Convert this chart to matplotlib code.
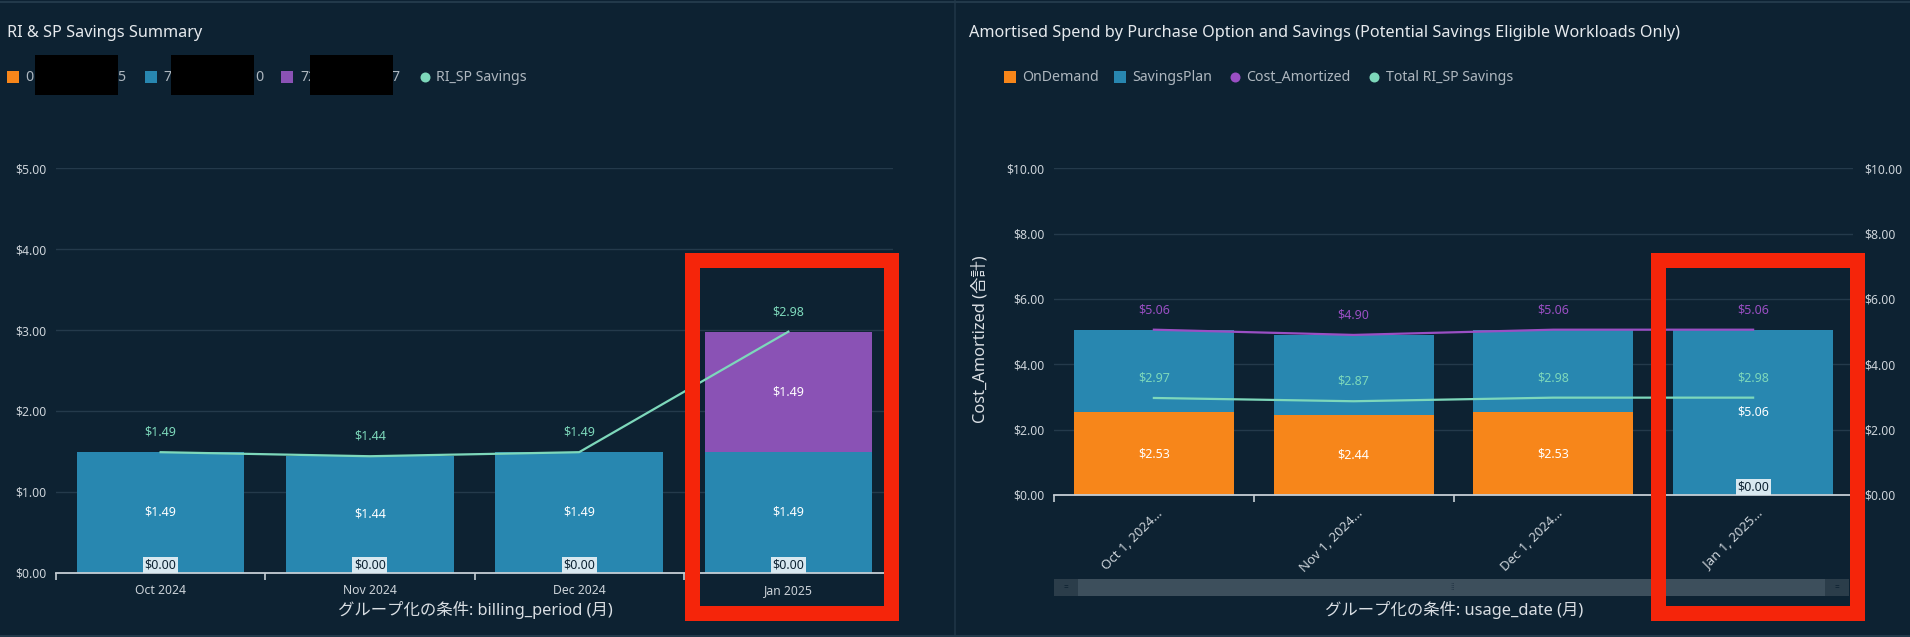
import matplotlib
matplotlib.use('Agg')
import matplotlib.pyplot as plt
from matplotlib.patches import Rectangle
from matplotlib.lines import Line2D
from matplotlib.transforms import ScaledTranslation
import numpy as np

plt.rcParams['font.family'] = ['Noto Sans', 'Noto Sans CJK JP', 'DejaVu Sans']

# ---------------- data ----------------
left_periods = ['Oct 2024', 'Nov 2024', 'Dec 2024', 'Jan 2025']
left_orange = [0.00, 0.00, 0.00, 0.00]
left_blue = [1.49, 1.44, 1.49, 1.49]
left_purple = [0.00, 0.00, 0.00, 1.49]
left_savings = [1.49, 1.44, 1.49, 2.98]
left_yticks = [0, 1, 2, 3, 4, 5]

right_dates = ['Oct 1, 2024…', 'Nov 1, 2024…', 'Dec 1, 2024…', 'Jan 1, 2025…']
right_ondemand = [2.53, 2.44, 2.53, 0.00]
right_savingsplan = [2.53, 2.46, 2.53, 5.06]
right_cost_amortized = [5.06, 4.90, 5.06, 5.06]
right_total_savings = [2.97, 2.87, 2.98, 2.98]
right_yticks = [0, 2, 4, 6, 8, 10]

left_title = 'RI & SP Savings Summary'
right_title = 'Amortised Spend by Purchase Option and Savings (Potential Savings Eligible Workloads Only)'
left_xlabel = 'グループ化の条件: billing_period (月)'
right_xlabel = 'グループ化の条件: usage_date (月)'
right_ylabel = 'Cost_Amortized (合計)'

# ---------------- style ----------------
W, H = 1910, 637
BG = '#0d2232'
ORANGE = '#f7861a'
BLUE = '#2887b0'
PURPLE = '#8a52b5'
MINT = '#7dd8bb'
PURPLE_LINE = '#9a4fc4'
GRID = '#243a4b'
TICK = '#ccd3d9'
LEG = '#aeb7bf'
RED = '#f5250a'
TITLE_FS = 11.7
LEG_FS = 10.2
AX_FS = 11.8
TICK_FS = 8.8
VAL_FS = 9

fig = plt.figure(figsize=(W / 100, H / 100), dpi=100, facecolor=BG)


def fx(x):
    return x / W


def fy(y):
    return 1 - y / H


def fig_rect(x0, y0, x1, y1, color, z=5, **kw):
    fig.add_artist(Rectangle((fx(x0), fy(y1)), (x1 - x0) / W, (y1 - y0) / H,
                             transform=fig.transFigure, facecolor=color,
                             edgecolor='none', zorder=z, **kw))


def fig_text(x, y, s, **kw):
    kw.setdefault('ha', 'left')
    kw.setdefault('va', 'center')
    return fig.text(fx(x), fy(y), s, **kw)


def fig_dot(x, y, color, size=10):
    fig.add_artist(Line2D([fx(x)], [fy(y)], marker='o', markersize=size * 0.72,
                          color=color, markeredgewidth=0, transform=fig.transFigure))


def style_axes(ax, yticks, ylim):
    ax.set_facecolor('none')
    for s in ['top', 'right', 'left']:
        ax.spines[s].set_visible(False)
    ax.spines['bottom'].set_color('#c5ced5')
    ax.spines['bottom'].set_linewidth(1.3)
    ax.set_ylim(*ylim)
    ax.set_xlim(-0.5, 3.5)
    ax.set_yticks(yticks)
    ax.set_yticklabels(['$%.2f' % v for v in yticks], color=TICK, fontsize=TICK_FS)
    ax.tick_params(axis='y', length=0, pad=7)
    ax.yaxis.grid(True, color=GRID, linewidth=1.0)
    ax.set_axisbelow(True)
    ax.set_xticks(np.arange(-0.5, 4.0, 1.0), minor=True)
    ax.tick_params(axis='x', which='minor', length=5, width=1.2, color='#c5ced5')
    ax.tick_params(axis='x', which='major', length=0)


def zero_box(ax, x, y):
    ax.annotate('$0.00', (x, y), xytext=(0, 8), textcoords='offset pixels',
                ha='center', va='center', fontsize=VAL_FS, color='#0d2232', zorder=6,
                bbox=dict(boxstyle='square,pad=0.12', facecolor='#d8e8f0', edgecolor='none'))


# ================= LEFT CHART =================
axL = fig.add_axes([fx(56), fy(572.7), (893 - 56) / W, (572.7 - 168.3) / H])
style_axes(axL, left_yticks, (0, 5))
xL = np.arange(len(left_periods))
bw = 0.8
b0 = np.zeros(len(xL))
axL.bar(xL, left_orange, bw, bottom=b0, color=ORANGE, zorder=2)
b1 = b0 + np.array(left_orange)
axL.bar(xL, left_blue, bw, bottom=b1, color=BLUE, zorder=2)
b2 = b1 + np.array(left_blue)
axL.bar(xL, left_purple, bw, bottom=b2, color=PURPLE, zorder=2)
axL.plot(xL, left_savings, color=MINT, linewidth=1.6, zorder=4)
for i in xL:
    if left_orange[i] == 0:
        zero_box(axL, i, 0)
    for val, bot in ((left_blue[i], b1[i]), (left_purple[i], b2[i])):
        if val > 0:
            axL.text(i, bot + val / 2, '$%.2f' % val, ha='center', va='center',
                     color='white', fontsize=VAL_FS, fontweight='bold', zorder=5)
    axL.annotate('$%.2f' % left_savings[i], (i, left_savings[i]), xytext=(0, 20),
                 textcoords='offset pixels', ha='center', va='center',
                 color=MINT, fontsize=VAL_FS, zorder=5)
axL.set_xticks(xL)
axL.set_xticklabels(left_periods, color=TICK, fontsize=TICK_FS)
axL.tick_params(axis='x', which='major', pad=8)

# ================= RIGHT CHART =================
axR = fig.add_axes([fx(1054), fy(495), (1853 - 1054) / W, (495 - 168.3) / H])
style_axes(axR, right_yticks, (0, 10))
xR = np.arange(len(right_dates))
r0 = np.zeros(len(xR))
axR.bar(xR, right_ondemand, bw, bottom=r0, color=ORANGE, zorder=2)
r1 = r0 + np.array(right_ondemand)
axR.bar(xR, right_savingsplan, bw, bottom=r1, color=BLUE, zorder=2)
axR2 = axR.twinx()
axR2.set_ylim(0, 10)
axR2.set_yticks(right_yticks)
axR2.set_yticklabels(['$%.2f' % v for v in right_yticks], color=TICK, fontsize=TICK_FS)
axR2.tick_params(axis='y', length=0, pad=8)
for s in axR2.spines.values():
    s.set_visible(False)
axR2.plot(xR, right_cost_amortized, color=PURPLE_LINE, linewidth=1.6, zorder=4)
axR2.plot(xR, right_total_savings, color=MINT, linewidth=1.6, zorder=4)
for i in xR:
    if right_ondemand[i] == 0:
        zero_box(axR, i, 0)
    else:
        axR.text(i, right_ondemand[i] / 2, '$%.2f' % right_ondemand[i], ha='center',
                 va='center', color='white', fontsize=VAL_FS, fontweight='bold', zorder=5)
    sp_center = r1[i] + right_savingsplan[i] / 2
    # the segment label is hidden where it would collide with the savings line label
    if abs(sp_center - (right_total_savings[i] + 0.6)) > 0.6:
        axR2.text(i, sp_center, '$%.2f' % right_savingsplan[i], ha='center', va='center',
                  color='white', fontsize=VAL_FS, fontweight='bold', zorder=5)
    axR2.annotate('$%.2f' % right_cost_amortized[i], (i, right_cost_amortized[i]),
                  xytext=(0, 20), textcoords='offset pixels', ha='center', va='center',
                  color=PURPLE_LINE, fontsize=VAL_FS, zorder=5)
    axR2.annotate('$%.2f' % right_total_savings[i], (i, right_total_savings[i]),
                  xytext=(0, 20), textcoords='offset pixels', ha='center', va='center',
                  color=MINT, fontsize=VAL_FS, zorder=5)
axR.set_xticks(xR)
axR.set_xticklabels(right_dates, color=TICK, fontsize=9.5, rotation=45,
                    rotation_mode='anchor', ha='right', va='center')
axR.tick_params(axis='x', which='major', pad=12)
for lab in axR.get_xticklabels():
    lab.set_transform(lab.get_transform() + ScaledTranslation(0.07, 0, fig.dpi_scale_trans))

# ================= frame / titles / legends =================
fig.add_artist(Line2D([fx(955), fx(955)], [0, 1], color='#1f3546', linewidth=1.2,
                      transform=fig.transFigure))
fig.add_artist(Line2D([0, 1], [fy(1.5), fy(1.5)], color='#22394a', linewidth=1.5,
                      transform=fig.transFigure))
fig.add_artist(Line2D([0, 1], [fy(635.5), fy(635.5)], color='#22394a', linewidth=1.5,
                      transform=fig.transFigure))

fig_text(7.3, 33, left_title, color='#e6eaee', fontsize=TITLE_FS)
fig_text(968.5, 33, right_title, color='#e6eaee', fontsize=TITLE_FS)

# left legend (series names partly masked in the source)
LY = 77.5
fig_rect(7.3, 70.7, 19.2, 82.7, ORANGE)
fig_text(25.3, LY, '0', color=LEG, fontsize=LEG_FS)
fig_text(125.7, LY, '5', color=LEG, fontsize=LEG_FS, ha='right')
fig_rect(35.1, 55, 118, 95, 'black', z=8)
fig_rect(144.5, 70.7, 156.5, 82.7, BLUE)
fig_text(163, LY, '7', color=LEG, fontsize=LEG_FS)
fig_text(263.3, LY, '0', color=LEG, fontsize=LEG_FS, ha='right')
fig_rect(171, 55, 253.9, 95, 'black', z=8)
fig_rect(281, 70.7, 293, 82.7, PURPLE)
fig_text(300, LY, '72', color=LEG, fontsize=LEG_FS)
fig_text(399.2, LY, '7', color=LEG, fontsize=LEG_FS, ha='right')
fig_rect(309.8, 55, 393, 95, 'black', z=8)
fig_dot(424.5, 77, MINT)
fig_text(436, LY, 'RI_SP Savings', color=LEG, fontsize=LEG_FS)

# right legend
fig_rect(1004, 70.7, 1016, 82.7, ORANGE)
fig_text(1022.3, LY, 'OnDemand', color=LEG, fontsize=LEG_FS)
fig_rect(1114, 70.7, 1126, 82.7, BLUE)
fig_text(1132.6, LY, 'SavingsPlan', color=LEG, fontsize=LEG_FS)
fig_dot(1235, 77, PURPLE_LINE)
fig_text(1246.4, LY, 'Cost_Amortized', color=LEG, fontsize=LEG_FS)
fig_dot(1374, 77, MINT)
fig_text(1386.4, LY, 'Total RI_SP Savings', color=LEG, fontsize=LEG_FS)

# axis titles
fig_text(475, 610, left_xlabel, color='#d9dee3', fontsize=AX_FS, ha='center')
fig_text(1454, 610, right_xlabel, color='#d9dee3', fontsize=AX_FS, ha='center')
fig_text(980, 339, right_ylabel, color='#d9dee3', fontsize=AX_FS, ha='center', rotation=90)

# scroll bar under right chart
fig_rect(1054, 579, 1849, 596, '#3d4f5c')
fig_rect(1054, 579, 1078, 596, '#2b3d4a', z=6)
fig_rect(1825, 579, 1849, 596, '#2b3d4a', z=6)
fig_text(1066, 587.5, '=', color='#0d2232', fontsize=6, ha='center', zorder=7)
fig_text(1837, 587.5, '=', color='#0d2232', fontsize=6, ha='center', zorder=7)
fig_text(1453, 587.5, '⁞⁞', color='#16283a', fontsize=6, ha='center', zorder=7)

# red highlight boxes
for x0, y0, x1, y1 in ((684, 252, 898, 620), (1650, 252, 1864, 620)):
    fig.add_artist(Rectangle((fx(x0 + 7.5), fy(y1 - 7.5)), (x1 - x0 - 15) / W,
                             (y1 - y0 - 15) / H, transform=fig.transFigure,
                             facecolor='none', edgecolor=RED, linewidth=15 * 0.72,
                             joinstyle='miter', zorder=20))

fig.savefig('out.png', dpi=100, facecolor=BG)
